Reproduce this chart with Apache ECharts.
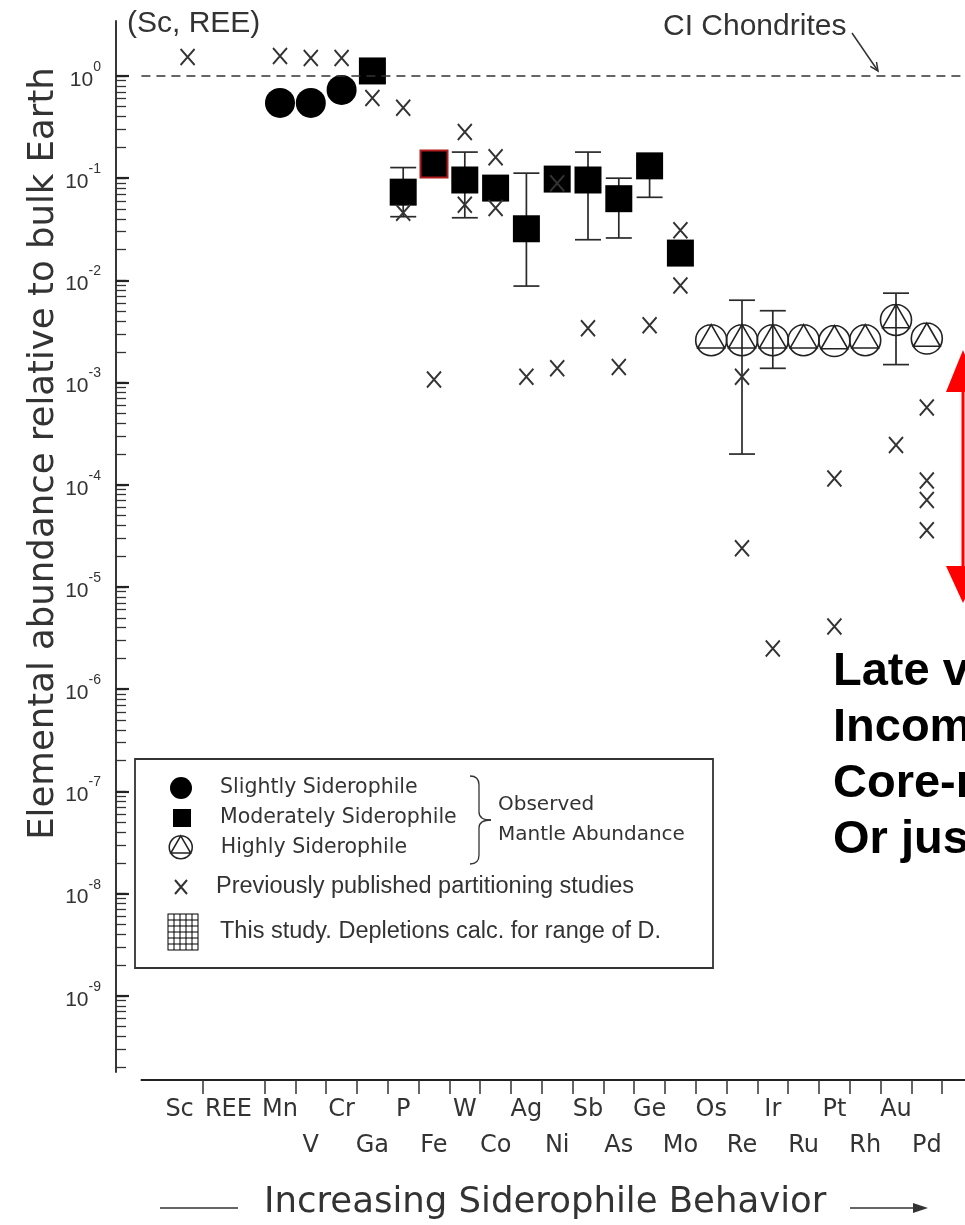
<!DOCTYPE html>
<html>
<head>
<meta charset="utf-8">
<script src="https://cdn.jsdelivr.net/npm/echarts@6/dist/echarts.min.js"></script>
<style>
html,body{margin:0;padding:0;background:#ffffff;}
#chart{width:965px;height:1225px;}
</style>
</head>
<body>
<div id="chart"></div>
<script>
// ---------------- data ----------------
const categories = ['', 'Sc', 'REE', ' ', 'Mn', 'V', 'Cr', 'Ga', 'P', 'Fe', 'W', 'Co', 'Ag', 'Ni', 'Sb', 'As', 'Ge', 'Mo', 'Os', 'Re', 'Ir', 'Ru', 'Pt', 'Rh', 'Au', 'Pd', '  '];
const lowerRowLabels = ['V', 'Ga', 'Fe', 'Co', 'Ni', 'As', 'Mo', 'Re', 'Ru', 'Rh', 'Pd'];
const yTickExponents = [-9, -8, -7, -6, -5, -4, -3, -2, -1, 0];
const yRangeMin = 1.8e-10;
const yRangeMax = 3.45;
const chondriteLevel = 1;

const slightlyElements = ['Mn', 'V', 'Cr'];
const slightlyValues = [0.545, 0.545, 0.73];

const moderatelyElements = ['Ga', 'P', 'Fe', 'W', 'Co', 'Ag', 'Ni', 'Sb', 'As', 'Ge', 'Mo'];
const moderatelyValues = [1.12, 0.073, 0.138, 0.096, 0.080, 0.032, 0.098, 0.096, 0.063, 0.132, 0.0185];

const highlyElements = ['Os', 'Re', 'Ir', 'Ru', 'Pt', 'Rh', 'Au', 'Pd'];
const highlyValues = [2.6e-3, 2.6e-3, 2.6e-3, 2.6e-3, 2.55e-3, 2.6e-3, 4.1e-3, 2.7e-3];

const errorElements = ['P', 'W', 'Ag', 'Sb', 'As', 'Ge', 'Re', 'Ir', 'Au'];
const errorLow = [0.042, 0.041, 0.0088, 0.025, 0.026, 0.065, 2.0e-4, 1.38e-3, 1.5e-3];
const errorHigh = [0.127, 0.18, 0.112, 0.18, 0.10, 0.132, 6.4e-3, 5.05e-3, 7.5e-3];

const publishedElements = ['Sc', 'Mn', 'V', 'Cr', 'Ga', 'P', 'P', 'Fe', 'W', 'W', 'Co', 'Co', 'Ag', 'Ni', 'Ni', 'Sb', 'As', 'Ge', 'Mo', 'Mo', 'Re', 'Re', 'Ir', 'Pt', 'Pt', 'Au', 'Pd', 'Pd', 'Pd', 'Pd'];
const publishedValues = [1.53, 1.57, 1.5, 1.5, 0.61, 0.49, 0.046, 1.07e-3, 0.283, 0.055, 0.16, 0.051, 1.14e-3, 1.38e-3, 0.089, 3.4e-3, 1.42e-3, 3.65e-3, 0.031, 8.9e-3, 1.14e-3, 2.4e-5, 2.5e-6, 1.15e-4, 4.1e-6, 2.45e-4, 5.7e-4, 1.1e-4, 7.1e-5, 3.6e-5];

const outlinedElement = 'Fe';

// ---------------- build ----------------
const idx = (el) => categories.indexOf(el);
const lg = (v) => Math.log10(v);
const yMinExp = lg(yRangeMin);
const yMaxExp = lg(yRangeMax);

const minorTickValues = [];
for (let d = -10; d <= 0; d++) {
  for (let k = 1; k <= 9; k++) {
    const v = d + Math.log10(k);
    if (v >= yMinExp && v <= 0.0001) minorTickValues.push(v);
  }
}

const HIGHLY_SYMBOL = 'path://M0,50A50,50 0 1,1 100,50A50,50 0 1,1 0,50Z M50,0L93.3,75L6.7,75Z';
const X_SYMBOL = 'path://M0,0L12,14M12,0L0,14';
function hatchPath() {
  let p = 'path://M0,0H31V37H0Z';
  for (let c = 0; c < 5; c++) {
    for (let r = 0; r < 6; r++) {
      const x = 1 + 6 * c, y = 1 + 6 * r;
      p += 'M' + x + ',' + y + 'V' + (y + 5) + 'H' + (x + 5) + 'V' + y + 'Z';
    }
  }
  return p;
}
const HATCH_SYMBOL = hatchPath();

const TXT = '#333333';
const names = {
  slightly: 'Slightly Siderophile',
  moderately: 'Moderately Siderophile',
  highly: 'Highly Siderophile',
  published: 'Previously published partitioning studies',
  study: 'This study. Depletions calc. for range of D.'
};

const slightlyData = slightlyElements.map((e, i) => [idx(e), lg(slightlyValues[i])]);
const moderatelyData = moderatelyElements.map((e, i) => {
  const item = { value: [idx(e), lg(moderatelyValues[i])] };
  if (e === outlinedElement) item.itemStyle = { borderColor: '#b01c1c', borderWidth: 2 };
  return item;
});
const highlyData = highlyElements.map((e, i) => [idx(e), lg(highlyValues[i])]);
const errorData = errorElements.map((e, i) => [idx(e), lg(errorLow[i]), lg(errorHigh[i])]);
const publishedData = publishedElements.map((e, i) => [idx(e), lg(publishedValues[i])]);

const chart = echarts.init(document.getElementById('chart'), null, { renderer: 'canvas' });

function legendItem(name, icon, w, h, cx, cy, textX, font, size, extraStyle) {
  const lh = 24;
  const left = cx - w / 2;
  return {
    data: [name],
    icon: icon,
    orient: 'vertical',
    left: left,
    top: cy - Math.max(h, lh) / 2,
    padding: 0,
    itemWidth: w,
    itemHeight: h,
    selectedMode: false,
    itemStyle: extraStyle || {},
    textStyle: {
      fontFamily: font, fontSize: size, color: TXT, lineHeight: lh,
      padding: [0, 0, 0, textX - (left + w + 5)]
    }
  };
}

function txt(text, x, y, family, size, color, weight) {
  return {
    type: 'text', silent: true,
    style: {
      text: text, x: x, y: y, fontFamily: family, fontSize: size, fontWeight: weight || 'normal',
      fill: color, align: 'left', verticalAlign: 'middle', textAlign: 'left', textVerticalAlign: 'middle'
    }
  };
}
const GRAY = { stroke: '#333', lineWidth: 1.3, fill: 'none' };
const labelFont = { fontFamily: 'DejaVu Sans', fontSize: 24, color: TXT, lineHeight: 36 };

const option = {
  animation: false,
  backgroundColor: '#ffffff',
  grid: { left: 141.4, right: -8, top: 21, bottom: 153, containLabel: false, outerBoundsMode: 'none' },
  xAxis: {
    type: 'category',
    data: categories,
    position: 'bottom',
    offset: 8,
    boundaryGap: true,
    axisLine: { onZero: false, lineStyle: { color: '#222', width: 1.8 } },
    axisTick: { show: true, inside: false, length: 14, interval: (i) => i === 2 || i >= 4, lineStyle: { color: '#333', width: 1.5 } },
    axisLabel: Object.assign({
      interval: 0, margin: 12,
      formatter: (n) => {
        if (lowerRowLabels.includes(n)) return '\n' + n;
        if (n === 'Sc') return '{sc|' + n + '}';
        if (n === 'REE') return '{ree|' + n + '}';
        return n;
      },
      rich: {
        sc: Object.assign({ padding: [0, 16, 0, 0] }, labelFont),
        ree: Object.assign({ padding: [0, 0, 0, 20] }, labelFont)
      }
    }, labelFont),
    splitLine: { show: false },
    name: 'Increasing Siderophile Behavior',
    nameLocation: 'middle',
    nameGap: 105,
    nameMoveOverlap: false,
    nameTextStyle: { fontFamily: 'DejaVu Sans', fontSize: 35.5, color: TXT, lineHeight: 36, padding: [0, 24, 0, 0] }
  },
  yAxis: [
    {
      type: 'value', position: 'left', offset: 25.4, min: yMinExp, max: yMaxExp,
      axisLine: { show: true, onZero: false, lineStyle: { color: '#222', width: 1.8 } },
      axisTick: { show: true, inside: true, length: 10, customValues: minorTickValues, lineStyle: { color: '#333', width: 1.3 } },
      axisLabel: { show: false },
      splitLine: { show: false },
      name: 'Elemental abundance relative to bulk Earth',
      nameLocation: 'middle',
      nameGap: 54,
      nameMoveOverlap: false,
      nameTextStyle: { fontFamily: 'DejaVu Sans', fontSize: 35.5, color: TXT, lineHeight: 36, padding: [0, 0, 0, 186] }
    },
    {
      type: 'value', position: 'left', offset: 25.4, min: yMinExp, max: yMaxExp,
      axisLine: { show: false },
      axisTick: { show: true, inside: true, length: 13, customValues: yTickExponents, lineStyle: { color: '#222', width: 2.2 } },
      axisLabel: {
        show: true, margin: 15, customValues: yTickExponents,
        formatter: (v) => '{b|10}{s|' + Math.round(v) + '}',
        rich: {
          b: { fontFamily: 'Liberation Sans', fontSize: 21, color: TXT, lineHeight: 22, padding: [8, 0, 0, 0] },
          s: { fontFamily: 'Liberation Sans', fontSize: 14, color: TXT, lineHeight: 14, padding: [0, 0, 18, 0] }
        }
      },
      splitLine: { show: false }
    }
  ],
  legend: [
    legendItem(names.slightly, 'circle', 22, 22, 181, 788, 220, 'DejaVu Sans', 20.5),
    legendItem(names.moderately, 'rect', 18, 18, 182, 818, 220, 'DejaVu Sans', 20.5),
    legendItem(names.highly, HIGHLY_SYMBOL, 23, 23, 180, 847, 220, 'DejaVu Sans', 20.5, { borderWidth: 1.5 }),
    legendItem(names.published, X_SYMBOL, 12, 14, 180, 887, 215, 'Liberation Sans', 23.5, { borderWidth: 2 }),
    legendItem(names.study, HATCH_SYMBOL, 31, 37, 183, 932, 220, 'Liberation Sans', 23.5)
  ],
  series: [
    {
      name: 'error',
      type: 'custom',
      z: 2,
      silent: true,
      data: errorData,
      encode: { x: 0, y: [1, 2] },
      renderItem: function (params, api) {
        const x = api.value(0);
        const lo = api.coord([x, api.value(1)]);
        const hi = api.coord([x, api.value(2)]);
        const hw = 13;
        const st = { stroke: '#2a2a2a', lineWidth: 1.7 };
        return {
          type: 'group',
          children: [
            { type: 'line', shape: { x1: lo[0], y1: lo[1], x2: hi[0], y2: hi[1] }, style: st },
            { type: 'line', shape: { x1: lo[0] - hw, y1: lo[1], x2: lo[0] + hw, y2: lo[1] }, style: st },
            { type: 'line', shape: { x1: hi[0] - hw, y1: hi[1], x2: hi[0] + hw, y2: hi[1] }, style: st }
          ]
        };
      }
    },
    {
      name: names.highly, type: 'scatter', z: 3, silent: true,
      symbol: HIGHLY_SYMBOL, symbolSize: 31,
      itemStyle: { color: 'rgba(0,0,0,0)', borderColor: '#222', borderWidth: 1.6, opacity: 1 },
      data: highlyData
    },
    {
      name: names.slightly, type: 'scatter', z: 3, silent: true,
      symbol: 'circle', symbolSize: 30,
      itemStyle: { color: '#000', opacity: 1 },
      data: slightlyData,
      markLine: {
        silent: true, symbol: 'none', label: { show: false },
        lineStyle: { color: '#333', width: 1.7, type: [9, 6], opacity: 1 },
        data: [{ yAxis: lg(chondriteLevel) }]
      }
    },
    {
      name: names.moderately, type: 'scatter', z: 3, silent: true,
      symbol: 'rect', symbolSize: 27,
      itemStyle: { color: '#000', opacity: 1 },
      data: moderatelyData
    },
    {
      name: names.published, type: 'scatter', z: 4, silent: true,
      symbol: X_SYMBOL, symbolSize: [14, 16],
      itemStyle: { color: 'rgba(0,0,0,0)', borderColor: '#333', borderWidth: 2, opacity: 1 },
      data: publishedData
    },
    {
      name: names.study, type: 'scatter', silent: true,
      symbol: HATCH_SYMBOL, symbolSize: [31, 37],
      itemStyle: { color: '#000', opacity: 1 },
      data: []
    }
  ],
  graphic: [
    { type: 'rect', silent: true, z: 1, shape: { x: 135, y: 759, width: 578, height: 209 }, style: { fill: 'none', stroke: '#333', lineWidth: 1.8 } },
    { type: 'bezierCurve', silent: true, shape: { x1: 470, y1: 776, x2: 479, y2: 785, cpx1: 479, cpy1: 776 }, style: GRAY },
    { type: 'line', silent: true, shape: { x1: 479, y1: 785, x2: 479, y2: 812 }, style: GRAY },
    { type: 'bezierCurve', silent: true, shape: { x1: 479, y1: 812, x2: 491, y2: 820, cpx1: 479, cpy1: 820 }, style: GRAY },
    { type: 'bezierCurve', silent: true, shape: { x1: 491, y1: 820, x2: 479, y2: 828, cpx1: 479, cpy1: 820 }, style: GRAY },
    { type: 'line', silent: true, shape: { x1: 479, y1: 828, x2: 479, y2: 855 }, style: GRAY },
    { type: 'bezierCurve', silent: true, shape: { x1: 479, y1: 855, x2: 470, y2: 864, cpx1: 479, cpy1: 864 }, style: GRAY },
    txt('Observed', 498, 805, 'DejaVu Sans', 20, TXT),
    txt('Mantle Abundance', 498, 835, 'DejaVu Sans', 20, TXT),
    txt('(Sc, REE)', 127, 24, 'Liberation Sans', 30, TXT),
    txt('CI Chondrites', 663, 27, 'Liberation Sans', 30, TXT),
    { type: 'line', silent: true, shape: { x1: 852, y1: 33, x2: 878, y2: 71 }, style: { stroke: '#333', lineWidth: 1.5 } },
    { type: 'polyline', silent: true, shape: { points: [[876.5, 62], [878, 71], [870.3, 66.4]] }, style: { stroke: '#333', lineWidth: 1.5, fill: 'none' } },
    { type: 'rect', silent: true, shape: { x: 961.5, y: 388, width: 3, height: 180 }, style: { fill: '#ff0000' } },
    { type: 'polygon', silent: true, shape: { points: [[963, 350], [946, 392], [980, 392]] }, style: { fill: '#ff0000' } },
    { type: 'polygon', silent: true, shape: { points: [[946, 566], [980, 566], [963, 603]] }, style: { fill: '#ff0000' } },
    txt('Late v', 833, 672, 'Liberation Sans', 47, '#000', 'bold'),
    txt('Incom', 833, 728, 'Liberation Sans', 47, '#000', 'bold'),
    txt('Core-m', 833, 784, 'Liberation Sans', 47, '#000', 'bold'),
    txt('Or jus', 833, 840, 'Liberation Sans', 47, '#000', 'bold'),
    { type: 'line', silent: true, shape: { x1: 160, y1: 1208, x2: 238, y2: 1208 }, style: { stroke: '#333', lineWidth: 1.5 } },
    { type: 'line', silent: true, shape: { x1: 850, y1: 1208, x2: 918, y2: 1208 }, style: { stroke: '#333', lineWidth: 1.5 } },
    { type: 'polygon', silent: true, shape: { points: [[928, 1208], [913, 1203], [913, 1213]] }, style: { fill: '#333' } }
  ]
};

chart.setOption(option);
</script>
</body>
</html>
